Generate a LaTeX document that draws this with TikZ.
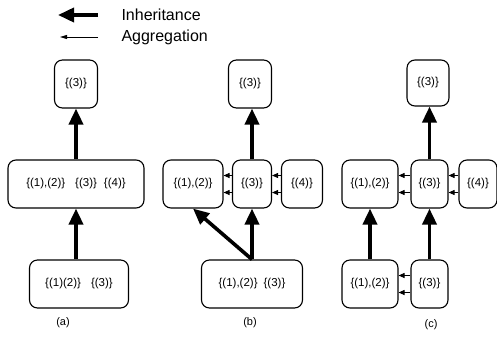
\documentclass[tikz,border=0pt]{standalone}
\usepackage{fontspec}
\setmainfont{Liberation Sans}
\usetikzlibrary{arrows.meta}

\tikzset{
  box/.style={draw,rounded corners=8pt,line width=1.1pt,inner sep=0pt,
    font=\fontsize{11.5}{13}\selectfont},
  inherit/.style={line width=3.6pt,-{Triangle[length=16pt,width=14pt]}},
  aggr/.style={line width=0.9pt,-{Triangle[length=6pt,width=5pt]}},
  lbl/.style={font=\fontsize{11}{13}\selectfont}
}

\begin{document}
\begin{tikzpicture}
  [x=1pt,y=-1pt]
  \useasboundingbox (0,0) rectangle (497,362);
  % legend
  \coordinate (l1) at (98,15);
  \coordinate (l1h) at (58,15);
  \coordinate (l2) at (98,37);
  \coordinate (l2h) at (60,37);
  \draw[inherit] (l1) -- (l1h);
  \draw[line width=0.9pt,-{Triangle[length=7pt,width=4pt]}] (l2) -- (l2h);
  \node[anchor=west,font=\fontsize{16}{18}\selectfont] (t1) at (118,15) {Inheritance};
  \node[anchor=west,font=\fontsize{16}{18}\selectfont] (t2) at (118,37) {Aggregation};

  % (a)
  \node[box,minimum width=43,minimum height=48] (a1) at (76,84) {\{(3)\}};
  \node[box,minimum width=136,minimum height=48] (a2) at (76,184)
    {\{(1),(2)\}\hspace{10pt}\{(3)\}\hspace{7pt}\{(4)\}};
  \node[box,minimum width=99,minimum height=48] (a3) at (79,284)
    {\{(1)(2)\}\hspace{10pt}\{(3)\}};
  \draw[inherit] (a2.north) -- (a1.south);
  \draw[inherit] (a3.north -| a2) -- (a2.south);
  \node[lbl] (la) at (63,323) {(a)};

  % (b)
  \node[box,minimum width=43,minimum height=48] (b1) at (250,84) {\{(3)\}};
  \node[box,minimum width=60,minimum height=48] (b2) at (193,184) {\{(1),(2)\}};
  \node[box,minimum width=39,minimum height=48] (b3) at (252,184) {\{(3)\}};
  \node[box,minimum width=41,minimum height=48] (b4) at (302,184) {\{(4)\}};
  \node[box,minimum width=101,minimum height=48] (b5) at (252,284)
    {\{(1),(2)\}\hspace{6pt}\{(3)\}};
  \draw[inherit] (b3.north) -- (b3.north |- b1.south);
  \draw[inherit] (b5.north) -- (b3.south);
  \draw[inherit] (b5.north) -- (b2.south);
  \draw[aggr] ([yshift=8.5pt]b3.west) -- ([yshift=8.5pt]b2.east);
  \draw[aggr] ([yshift=-8.5pt]b3.west) -- ([yshift=-8.5pt]b2.east);
  \draw[aggr] ([yshift=8.5pt]b4.west) -- ([yshift=8.5pt]b3.east);
  \draw[aggr] ([yshift=-8.5pt]b4.west) -- ([yshift=-8.5pt]b3.east);
  \node[lbl] (lb) at (250,323) {(b)};

  % (c)
  \node[box,minimum width=42,minimum height=46] (c1) at (428,83) {\{(3)\}};
  \node[box,minimum width=56,minimum height=48] (c2) at (370,184) {\{(1),(2)\}};
  \node[box,minimum width=37,minimum height=48] (c3) at (429.5,184) {\{(3)\}};
  \node[box,minimum width=38,minimum height=48] (c4) at (478,184) {\{(4)\}};
  \node[box,minimum width=56,minimum height=48] (c5) at (370,284) {\{(1),(2)\}};
  \node[box,minimum width=37,minimum height=48] (c6) at (429.5,284) {\{(3)\}};
  \draw[inherit] (c3.north) -- (c3.north |- c1.south);
  \draw[inherit] (c5.north) -- (c2.south);
  \draw[inherit] (c6.north) -- (c3.south);
  \draw[aggr] ([yshift=8.5pt]c3.west) -- ([yshift=8.5pt]c2.east);
  \draw[aggr] ([yshift=-8.5pt]c3.west) -- ([yshift=-8.5pt]c2.east);
  \draw[aggr] ([yshift=8.5pt]c4.west) -- ([yshift=8.5pt]c3.east);
  \draw[aggr] ([yshift=-8.5pt]c4.west) -- ([yshift=-8.5pt]c3.east);
  \draw[aggr] ([yshift=8.5pt]c6.west) -- ([yshift=8.5pt]c5.east);
  \draw[aggr] ([yshift=-8.5pt]c6.west) -- ([yshift=-8.5pt]c5.east);
  \node[lbl] (lc) at (431,325) {(c)};
\end{tikzpicture}
\end{document}
